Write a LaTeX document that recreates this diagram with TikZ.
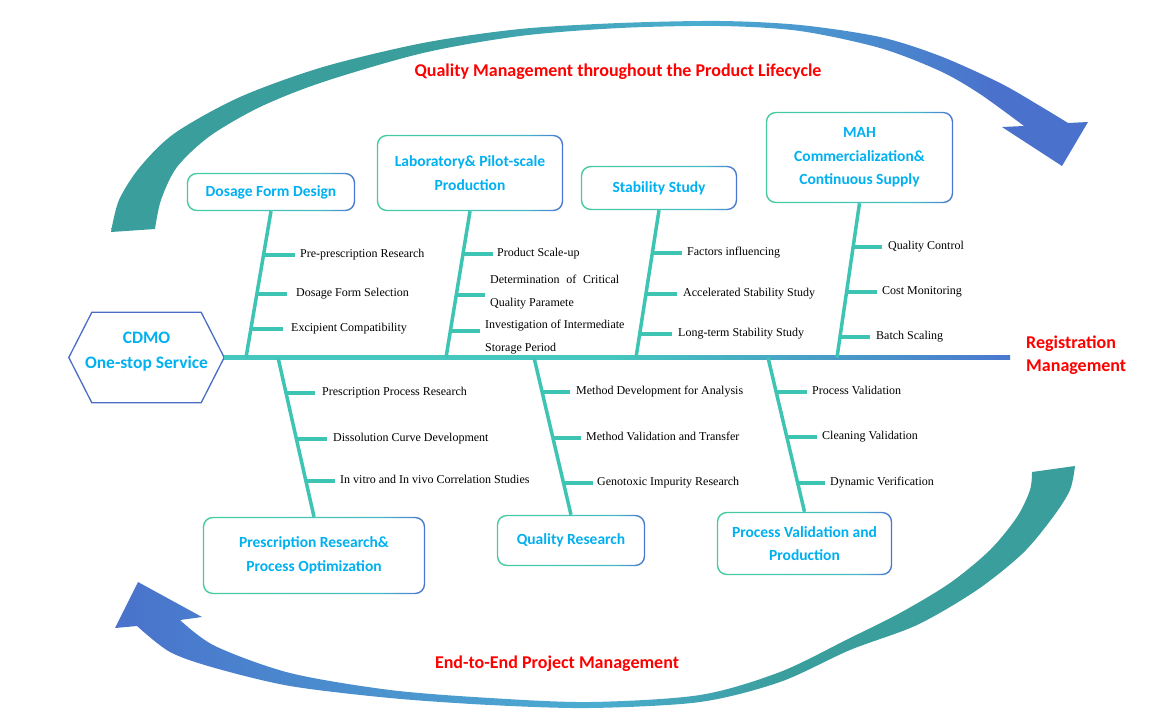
\documentclass[tikz,border=0pt]{standalone}
\usepackage{fontspec}
\setmainfont{Liberation Serif}
\newfontfamily\carlito{Carlito}
\usetikzlibrary{calc}
\definecolor{boxtxt}{HTML}{00B0F0}
\definecolor{bonec}{HTML}{3EC4B2}
\definecolor{redt}{HTML}{FF0000}
\definecolor{hexc}{HTML}{4A6CC8}
\definecolor{arT}{HTML}{3A9E9C}
\definecolor{arC}{HTML}{4BADD0}
\definecolor{arB}{HTML}{4A72CC}
\definecolor{bxL}{HTML}{45CBA0}
\definecolor{bxLM}{HTML}{45C4B4}
\definecolor{bxM}{HTML}{45B8C8}
\definecolor{bxR}{HTML}{4A74D2}
\definecolor{spL}{HTML}{45C6BE}
\definecolor{spR}{HTML}{4A78D0}
\pgfdeclarehorizontalshading{topar}{100bp}{color(0bp)=(arT); color(25bp)=(arT); color(41bp)=(arT); color(55bp)=(arC); color(70bp)=(arB); color(75bp)=(arB); color(100bp)=(arB)}
\pgfdeclarehorizontalshading{botar}{100bp}{color(0bp)=(arB); color(25bp)=(arB); color(50bp)=(arC); color(60bp)=(arT); color(75bp)=(arT); color(100bp)=(arT)}
\pgfdeclarehorizontalshading{boxsh}{100bp}{color(0bp)=(bxL); color(25bp)=(bxL); color(50bp)=(bxLM); color(65bp)=(bxM); color(75bp)=(bxR); color(100bp)=(bxR)}
\pgfdeclarehorizontalshading{spinesh}{100bp}{color(0bp)=(spL); color(25bp)=(spL); color(50bp)=(spL); color(75bp)=(spR); color(100bp)=(spR)}
\newcommand\gborder[1]{%
  \shade[shading=boxsh, even odd rule]
    [rounded corners=10pt] (#1.south west) rectangle (#1.north east)
    [rounded corners=8.6pt] ($(#1.south west)+(1.4,-1.4)$) rectangle ($(#1.north east)+(-1.4,1.4)$);}
\newcommand\ribline[4]{%
  \coordinate (r#1s) at (#2,#3);
  \coordinate (r#1e) at ($(l#1.west)+(-#4,0)$);
  \draw[rib] (r#1s) -- (r#1s -| r#1e);}
\begin{document}
\begin{tikzpicture}[x=1pt,y=-1pt,
  box/.style={rectangle, fill=white, inner sep=0pt, align=center, font=\carlito\bfseries\fontsize{15.5}{23.5}\selectfont, text=boxtxt},
  lbl/.style={anchor=west, inner sep=0pt, font=\fontsize{12}{23}\selectfont, text height=8.2pt, text depth=2.6pt},
  lbltwo/.style={anchor=base west, inner sep=0pt, align=left, font=\fontsize{12}{23}\selectfont},
  bone/.style={draw=bonec, line width=3.5pt},
  rib/.style={draw=bonec, line width=4.5pt},
  redlbl/.style={font=\carlito\bfseries\fontsize{18}{23}\selectfont, text=redt, inner sep=0pt}
]
\useasboundingbox (0,0) rectangle (1167,717);
% ---- big curved arrows
\shade[shading=topar] plot[smooth, tension=0.5] coordinates {(111,232) (119,200) (140,167) (175,133) (240,97) (323,67) (423,43) (520,29) (620,23) (720,21) (800,25) (880,37) (940,56) (1000,83) (1040,106) (1068,123)} -- (1088,122) -- (1062,166) -- (1002,127) -- plot[smooth, tension=0.5] coordinates {(1024,126) (980,94) (940,71) (880,48) (800,31) (720,26) (620,28) (520,36) (423,53) (323,82) (260,107) (210,136) (177,167) (161,200) (155,229)} -- cycle;
\shade[shading=botar] plot[smooth, tension=0.5] coordinates {(1075,466) (1070,490) (1053,517) (1023,553) (977,590) (917,625) (850,650) (780,682) (700,702) (590,708) (490,705) (390,698) (290,686) (215,668) (170,652) (137,626)} -- (115,628) -- (138,582) -- (202,617) -- plot[smooth, tension=0.5] coordinates {(180,620) (215,646) (290,673) (390,690) (490,698) (590,702) (700,695) (780,672) (850,638) (900,613) (950,583) (990,550) (1017,517) (1030,490) (1032,472)} -- cycle;
% ---- head hexagon
\node[rectangle, inner sep=0pt, minimum width=155, minimum height=90] (hex) at (146.5,357.5) {};
\draw[draw=hexc, line width=1.3pt] (hex.west) -- ($(hex.north west)+(23,0)$) -- ($(hex.north east)+(-23,0)$) -- (hex.east) -- ($(hex.south east)+(-23,0)$) -- ($(hex.south west)+(23,0)$) -- cycle;
\node[inner sep=0pt, align=center, font=\carlito\bfseries\fontsize{17.5}{25}\selectfont, text=boxtxt] (hext) at (146.5,352) {CDMO\\One-stop Service};
% ---- spine
\coordinate (sE) at (1010,357.5);
\shade[shading=spinesh] ($(hex.east)+(0,-1.8)$) rectangle ($(sE)+(0,1.8)$);
% ---- category boxes
\node[box, minimum width=168, minimum height=38] (b1) at (271,192) {Dosage Form Design};
\node[box, minimum width=186, minimum height=76] (b2) at (470,173) {Laboratory\& Pilot-scale\\Production};
\node[box, minimum width=156, minimum height=44] (b3) at (659,188) {Stability Study};
\node[box, minimum width=187, minimum height=91] (b4) at (859.5,157.5) {MAH\\Commercialization\&\\Continuous Supply};
\node[box, minimum width=222, minimum height=77] (b5) at (314,555.5) {Prescription Research\&\\Process Optimization};
\node[box, minimum width=148, minimum height=51] (b6) at (571,540.5) {Quality Research};
\node[box, minimum width=175, minimum height=63] (b7) at (804.5,543.5) {Process Validation and\\Production};
\foreach \b in {b1,b2,b3,b4,b5,b6,b7} {\gborder{\b}}
% ---- bones
\coordinate (s1) at (246,357.5);
\coordinate (s2) at (446,357.5);
\coordinate (s3) at (636,357.5);
\coordinate (s4) at (837,357.5);
\coordinate (s5) at (278,357.5);
\coordinate (s6) at (534,357.5);
\coordinate (s7) at (768,357.5);
\draw[bone] (b1.south) -- (s1);
\draw[bone] (b2.south) -- (s2);
\draw[bone] (b3.south) -- (s3);
\draw[bone] (b4.south) -- (s4);
\draw[bone] (s5) -- (b5.north);
\draw[bone] (s6) -- (b6.north);
\draw[bone] (s7) -- (b7.north);
% ---- labels
\node[lbl] (l11) at (300,255) {Pre-prescription Research};
\node[lbl] (l12) at (296,294) {Dosage Form Selection};
\node[lbl] (l13) at (291,329) {Excipient Compatibility};
\node[lbl] (l21) at (497,254) {Product Scale-up};
\node[lbltwo] (l22) at (490,306) {\hbox to 129pt{Determination\hfil of\hfil Critical}\\Quality Paramete};
\node[lbltwo] (l23) at (485,351) {Investigation of Intermediate\\Storage Period};
\node[lbl] (l31) at (687,253) {Factors influencing};
\node[lbl] (l32) at (683,294) {Accelerated Stability Study};
\node[lbl] (l33) at (678,334) {Long-term Stability Study};
\node[lbl] (l41) at (888,247) {Quality Control};
\node[lbl] (l42) at (882,292) {Cost Monitoring};
\node[lbl] (l43) at (876,337) {Batch Scaling};
\node[lbl] (l51) at (322,393) {Prescription Process Research};
\node[lbl] (l52) at (333,439) {Dissolution Curve Development};
\node[lbl] (l53) at (340,481) {In vitro and In vivo Correlation Studies};
\node[lbl] (l61) at (576,392) {Method Development for Analysis};
\node[lbl] (l62) at (586,438) {Method Validation and Transfer};
\node[lbl] (l63) at (597,483) {Genotoxic Impurity Research};
\node[lbl] (l71) at (812,392) {Process Validation};
\node[lbl] (l72) at (822,437) {Cleaning Validation};
\node[lbl] (l73) at (830,483) {Dynamic Verification};
% ---- ribs
\ribline{11}{263}{255}{5}
\ribline{12}{256.5}{294}{9}
\ribline{13}{251}{329}{8}
\ribline{21}{463}{254}{4}
\ribline{22}{456.5}{295}{5}
\ribline{23}{450.5}{331}{5}
\ribline{31}{653}{253}{5}
\ribline{32}{646.5}{294}{6}
\ribline{33}{640}{334}{6}
\ribline{41}{854}{247}{6}
\ribline{42}{847}{292}{5}
\ribline{43}{840}{337}{6}
\ribline{51}{286}{393}{7}
\ribline{52}{296}{439}{6}
\ribline{53}{305}{481}{5}
\ribline{61}{542}{392}{6}
\ribline{62}{552}{438}{5}
\ribline{63}{562}{483}{4}
\ribline{71}{776}{392}{5}
\ribline{72}{785.5}{437}{5}
\ribline{73}{795.5}{483}{5}
% ---- red captions
\node[redlbl] (t1) at (618,72) {Quality Management throughout the Product Lifecycle};
\node[redlbl] (t2) at (557,664) {End-to-End Project Management};
\node[redlbl, align=left, anchor=west] (reg) at (1026,355.5) {Registration\\Management};
\end{tikzpicture}
\end{document}
